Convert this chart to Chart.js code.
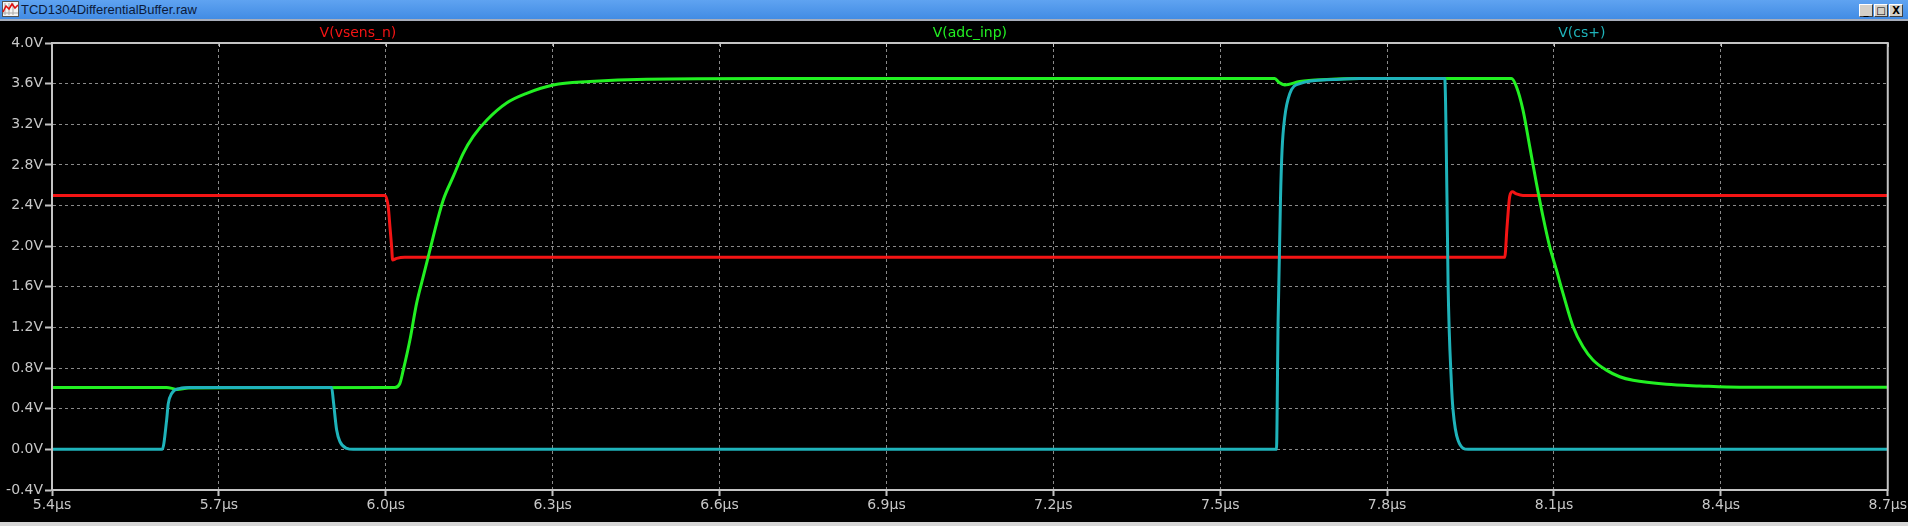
<!DOCTYPE html>
<html>
<head>
<meta charset="utf-8">
<script src="https://cdn.jsdelivr.net/npm/chart.js@4.4.0/dist/chart.umd.min.js"></script>
<style>
  html, body { margin: 0; padding: 0; background: #000; overflow: hidden; }
  #win { position: relative; width: 1908px; height: 526px; background: #000; }
  #bar { position: absolute; left: 0; top: 0; width: 1908px; height: 19px;
         background: linear-gradient(#5fa3f1, #428ce4); border-bottom: 2px solid #a8aebb; }
  #bar span { position: absolute; left: 21px; top: 2px; font: 13px "Liberation Sans", sans-serif; color: #0b1a3a; }
  #icon { position: absolute; left: 2px; top: 1px; }
  .btn { position: absolute; top: 4px; width: 14px; height: 13px; background: #d4d0c8;
         border: 1px solid #fff; border-right-color: #404040; border-bottom-color: #404040;
         box-sizing: border-box; font: bold 10px "DejaVu Sans", sans-serif; text-align: center;
         line-height: 11px; color: #000; }
  #plot { position: absolute; left: 0; top: 21px; }
  #foot { position: absolute; left: 0; top: 522px; width: 1908px; height: 4px; background: #d6d6d6; }
</style>
</head>
<body>
<div id="win">
  <div id="bar">
    <svg id="icon" width="17" height="16" viewBox="0 0 17 16">
      <rect x="0.5" y="0.5" width="16" height="15" fill="#f4f4f4" stroke="#555"/>
      <path d="M3 2v12M7 2v12M11 2v12M1 12h15" stroke="#aaa" stroke-width="1"/>
      <polyline points="1,11 4,5 7,8 10,3 13,7 16,4" fill="none" stroke="#e01010" stroke-width="1.6"/>
    </svg>
    <span>TCD1304DifferentialBuffer.raw</span>
    <div class="btn" style="left:1859px">_</div>
    <div class="btn" style="left:1874px">&#9633;</div>
    <div class="btn" style="left:1889px">X</div>
  </div>
  <canvas id="plot" width="1908" height="501"></canvas>
  <div id="foot"></div>
</div>
<script>
// tick labels
const xTicks = [5.4, 5.7, 6.0, 6.3, 6.6, 6.9, 7.2, 7.5, 7.8, 8.1, 8.4, 8.7];
const yTicks = [-0.4, 0.0, 0.4, 0.8, 1.2, 1.6, 2.0, 2.4, 2.8, 3.2, 3.6, 4.0];

// series names
const traceNames = ["V(vsens_n)", "V(adc_inp)", "V(cs+)"];

// V(vsens_n): time (us) / volts
const vsensT = [5.4, 5.9985, 6.0044, 6.0075, 6.0105, 6.0123, 6.0195, 6.034,
                8.0114, 8.0156, 8.0204, 8.0253, 8.0325, 8.0443, 8.7];
const vsensV = [2.50, 2.50, 2.39, 2.19, 1.995, 1.864, 1.88, 1.89,
                1.89, 2.19, 2.49, 2.535, 2.515, 2.50, 2.50];

// V(adc_inp)
const adcT = [5.4, 5.606, 5.625, 5.645, 6.0165, 6.0254, 6.0314, 6.0434, 6.0555, 6.0673,
              6.0794, 6.0914, 6.1033, 6.1212, 6.1392, 6.1572, 6.1813, 6.2172, 6.2532, 6.301,
              6.3669, 6.4688, 6.6904, 7.598, 7.606, 7.616, 7.643, 7.6915, 7.751, 8.0235,
              8.0325, 8.0443, 8.0564, 8.0684, 8.0803, 8.0923, 8.1044, 8.1162, 8.1342, 8.1522,
              8.1701, 8.1942, 8.2181, 8.2421, 8.3021, 8.3619, 8.4338, 8.7];
const adcV = [0.61, 0.61, 0.59, 0.605, 0.61, 0.65, 0.78, 1.077, 1.44, 1.70,
              1.963, 2.225, 2.455, 2.684, 2.914, 3.08, 3.24, 3.41, 3.505, 3.587,
              3.62, 3.643, 3.65, 3.65, 3.61, 3.587, 3.62, 3.64, 3.65, 3.65,
              3.57, 3.34, 2.98, 2.62, 2.29, 1.995, 1.766, 1.536, 1.21, 1.01,
              0.88, 0.78, 0.715, 0.68, 0.64, 0.624, 0.611, 0.611];

// V(cs+)
const csT = [5.4, 5.5982, 5.6061, 5.609, 5.6151, 5.630, 5.648, 5.9027, 5.9056, 5.9117,
             5.9176, 5.9297, 5.9415, 7.6011, 7.604, 7.6083, 7.6112, 7.616, 7.625, 7.643,
             7.7023, 7.751, 7.9036, 7.9077, 7.9096, 7.9156, 7.9185, 7.9275, 7.9455, 8.7];
const csV = [0, 0, 0.29, 0.45, 0.55, 0.60, 0.61, 0.61, 0.486, 0.19,
             0.076, 0.01, 0, 0, 1.24, 2.45, 2.95, 3.27, 3.50, 3.60,
             3.64, 3.65, 3.65, 2.45, 1.63, 0.65, 0.39, 0.09, 0, 0];

const colors = ["#f41414", "#22f022", "#1fb3ba"];
const FONT = "DejaVu Sans";
const AXIS = "#c4c4c4";

function pts(t, v) { return t.map((x, i) => ({ x: x, y: v[i] })); }

// frame all around + small ticks on the top edge
const framePlugin = {
  id: "frame",
  afterDraw(chart) {
    const { ctx, chartArea: a, scales } = chart;
    ctx.save();
    ctx.strokeStyle = AXIS;
    ctx.lineWidth = 2;
    ctx.setLineDash([]);
    ctx.strokeRect(a.left, a.top, a.right - a.left, a.bottom - a.top);
    ctx.lineWidth = 1;
    for (const v of xTicks) {
      const x = Math.round(scales.x.getPixelForValue(v)) + 0.5;
      ctx.beginPath(); ctx.moveTo(x, a.top); ctx.lineTo(x, a.top + 4); ctx.stroke();
    }
    ctx.restore();
  }
};

// trace names above the plot, spread evenly
const namesPlugin = {
  id: "names",
  afterDraw(chart) {
    const { ctx, chartArea: a } = chart;
    const w = a.right - a.left;
    ctx.save();
    ctx.font = "14px '" + FONT + "'";
    ctx.textAlign = "center";
    ctx.textBaseline = "middle";
    chart.data.datasets.forEach((ds, i) => {
      ctx.fillStyle = ds.borderColor;
      ctx.fillText(ds.label, a.left + w * (2 * i + 1) / 6, 12);
    });
    ctx.restore();
  }
};

new Chart(document.getElementById("plot"), {
  type: "line",
  data: {
    datasets: [
      { label: traceNames[0], data: pts(vsensT, vsensV), borderColor: colors[0], order: 3 },
      { label: traceNames[1], data: pts(adcT, adcV), borderColor: colors[1], order: 2 },
      { label: traceNames[2], data: pts(csT, csV), borderColor: colors[2], order: 1 }
    ]
  },
  options: {
    responsive: false,
    animation: false,
    parsing: false,
    normalized: true,
    elements: {
      point: { radius: 0 },
      line: { borderWidth: 3, cubicInterpolationMode: "monotone", borderJoinStyle: "round", borderCapStyle: "round" }
    },
    layout: { padding: { top: 22, right: 20, left: 0, bottom: 0 } },
    plugins: { legend: { display: false }, tooltip: { enabled: false } },
    scales: {
      x: {
        type: "linear", min: 5.4, max: 8.7,
        afterBuildTicks: s => { s.ticks = xTicks.map(v => ({ value: v })); },
        afterFit: s => { s.height = 32; },
        ticks: {
          color: "#c8c8c8", font: { family: FONT, size: 14 }, padding: 1,
          maxRotation: 0, autoSkip: false,
          callback: v => Number(v).toFixed(1) + "\u00b5s"
        },
        grid: { color: "#8a8a8a", lineWidth: 1, tickColor: AXIS, tickLength: 6, tickWidth: 2, tickBorderDash: [] },
        border: { display: true, color: AXIS, width: 2, dash: [3, 3] }
      },
      y: {
        type: "linear", min: -0.4, max: 4.0,
        afterBuildTicks: s => { s.ticks = yTicks.map(v => ({ value: v })); },
        afterFit: s => { s.width = 52; },
        ticks: {
          color: "#c8c8c8", font: { family: FONT, size: 14 }, padding: 2,
          autoSkip: false,
          callback: v => Number(v).toFixed(1) + "V"
        },
        grid: { color: "#8a8a8a", lineWidth: 1, tickColor: AXIS, tickLength: 7, tickWidth: 2, tickBorderDash: [] },
        border: { display: true, color: AXIS, width: 2, dash: [3, 3] }
      }
    }
  },
  plugins: [framePlugin, namesPlugin]
});
</script>
</body>
</html>
